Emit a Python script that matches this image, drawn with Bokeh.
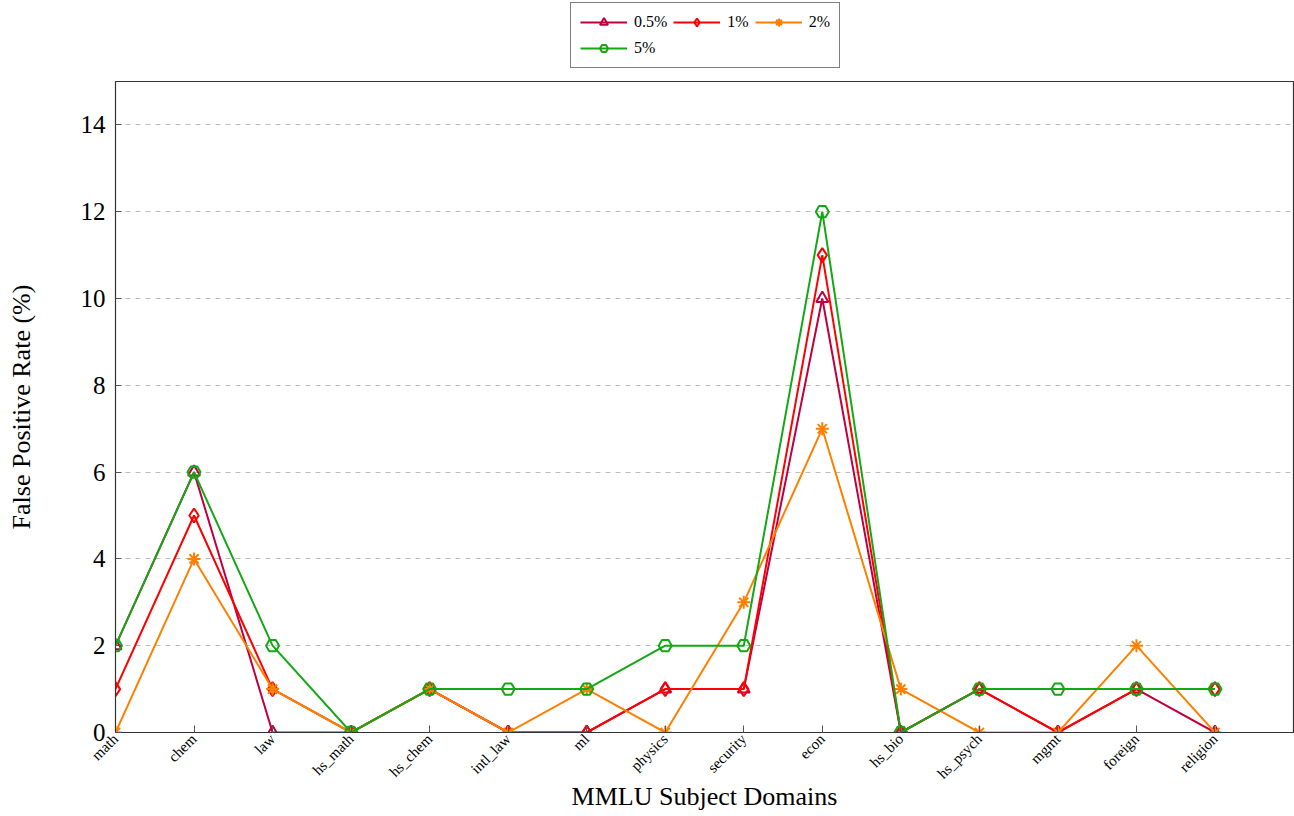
import math
from bokeh.plotting import figure
from bokeh.layouts import column
from bokeh.models import Legend, LegendItem, FixedTicker, Range1d
from bokeh.embed import file_html
from bokeh.resources import INLINE

categories = ["math", "chem", "law", "hs_math", "hs_chem", "intl_law", "ml", "physics",
              "security", "econ", "hs_bio", "hs_psych", "mgmt", "foreign", "religion"]
fpr_05 = [2, 6, 0, 0, 1, 0, 0, 1, 1, 10, 0, 1, 0, 1, 0]
fpr_1 = [1, 5, 1, 0, 1, 0, 0, 1, 1, 11, 0, 1, 0, 1, 1]
fpr_2 = [0, 4, 1, 0, 1, 0, 1, 0, 3, 7, 1, 0, 0, 2, 0]
fpr_5 = [2, 6, 2, 0, 1, 1, 1, 2, 2, 12, 0, 1, 1, 1, 1]
series_labels = ["0.5%", "1%", "2%", "5%"]
y_ticks = [0, 2, 4, 6, 8, 10, 12, 14]

xs = list(range(len(categories)))
SERIF = "Liberation Serif"

W = 1294
LEG_H = 80
H = 734
BL, BR, BT, BB = 115, 1, 1, 75

p = figure(width=W, height=H, output_backend="svg", toolbar_location=None,
           x_range=Range1d(0, len(categories)), y_range=Range1d(0, 15),
           min_border_left=BL, min_border_right=BR, min_border_top=BT, min_border_bottom=BB)

p.background_fill_color = "white"
p.border_fill_color = "white"
p.outline_line_color = "#333333"
p.outline_line_width = 1.2

p.xgrid.grid_line_color = None
p.ygrid.grid_line_color = "#bdbdbd"
p.ygrid.grid_line_dash = "5 5"
p.ygrid.grid_line_width = 1

# axes
p.xaxis.ticker = FixedTicker(ticks=xs)
p.xaxis.major_label_overrides = {i: c for i, c in enumerate(categories)}
p.xaxis.major_label_orientation = math.pi / 4
p.xaxis.major_label_text_font = SERIF
p.xaxis.major_label_text_font_size = "15px"
p.xaxis.major_label_text_color = "black"
p.xaxis.major_label_standoff = 4
p.xaxis.axis_label = "MMLU Subject Domains"
p.xaxis.axis_label_text_font = SERIF
p.xaxis.axis_label_text_font_size = "26px"
p.xaxis.axis_label_text_font_style = "normal"
p.xaxis.axis_label_text_color = "black"
p.xaxis.axis_label_standoff = -8
p.xaxis.major_tick_in = 7
p.xaxis.major_tick_out = 0
p.xaxis.minor_tick_line_color = None
p.xaxis.axis_line_color = "#333333"
p.xaxis.major_tick_line_color = "#555555"

p.yaxis.ticker = FixedTicker(ticks=y_ticks)
p.yaxis.major_label_text_font = SERIF
p.yaxis.major_label_text_font_size = "25px"
p.yaxis.major_label_text_color = "black"
p.yaxis.major_label_standoff = 10
p.yaxis.axis_label = "False Positive Rate (%)"
p.yaxis.axis_label_text_font = SERIF
p.yaxis.axis_label_text_font_size = "26px"
p.yaxis.axis_label_text_font_style = "normal"
p.yaxis.axis_label_text_color = "black"
p.yaxis.axis_label_standoff = 42
p.yaxis.major_tick_in = 6
p.yaxis.major_tick_out = 0
p.yaxis.major_tick_line_color = "#555555"
p.yaxis.minor_tick_line_color = None
p.yaxis.axis_line_color = "#333333"

colors = ["#bf0040", "#ff0000", "#ff8000", "#14a814"]
markers = ["triangle", "diamond", "asterisk", "hex"]
sizes = [12, 14, 13, 13]
data = [fpr_05, fpr_1, fpr_2, fpr_5]

# legend strip above the main plot (its frame is aligned with the main frame)
lg = figure(width=W, height=LEG_H, output_backend="svg", toolbar_location=None,
            x_range=Range1d(0, 1), y_range=Range1d(0, 1),
            x_axis_type=None, y_axis_type=None,
            min_border_left=0, min_border_right=0, min_border_top=0, min_border_bottom=0)
lg.outline_line_color = None
lg.xgrid.grid_line_color = None
lg.ygrid.grid_line_color = None

items = []
for lbl, ys, c, m, s in zip(series_labels, data, colors, markers, sizes):
    p.line(xs, ys, line_color=c, line_width=2)
    p.scatter(xs, ys, marker=m, size=s, line_color=c, line_width=2,
              fill_color="white", fill_alpha=0.0)
    # off-range proxies so the legend can draw each series' swatch
    dl = lg.line([-50, -49], [-50, -49], line_color=c, line_width=2)
    ds = lg.scatter([-50], [-50], marker=m, size=s - 1, line_color=c, line_width=2,
                    fill_color="white", fill_alpha=0.0)
    items.append(LegendItem(label=lbl, renderers=[dl, ds]))

legend = Legend(items=items, orientation="horizontal", ncols=3,
                location=(455, 12),
                label_text_font=SERIF, label_text_font_size="16px",
                label_text_color="black",
                glyph_width=47, glyph_height=20, spacing=6, padding=9, margin=0,
                label_standoff=7, border_line_color="black", border_line_width=1,
                background_fill_color="white")
lg.add_layout(legend, "center")

layout = column(lg, p, spacing=0)
open("out.html", "w").write(file_html(layout, INLINE))
